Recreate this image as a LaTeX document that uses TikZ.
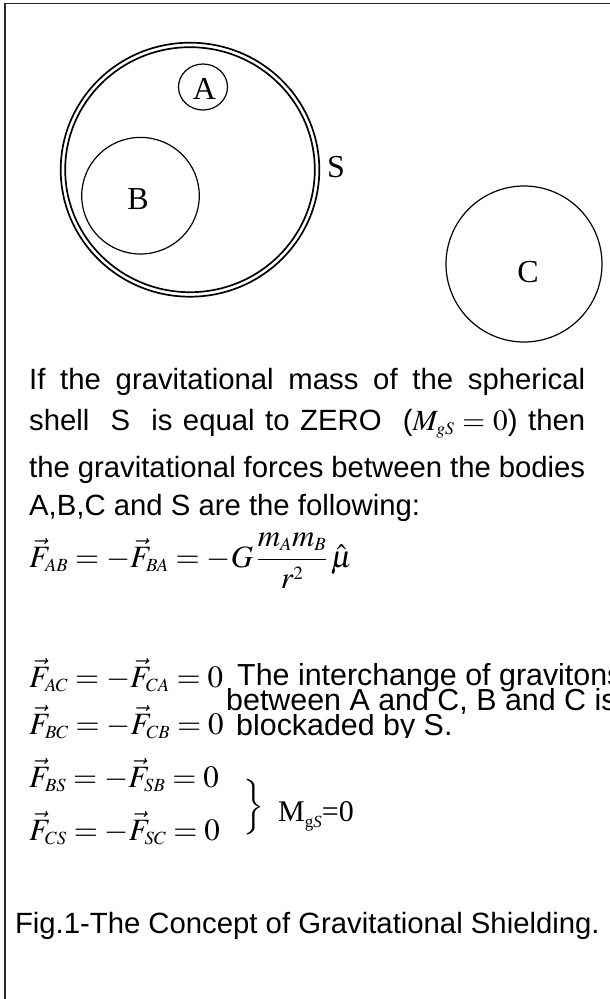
\documentclass[tikz,border=0pt]{standalone}
\usepackage{mathptmx}
\usepackage[no-math]{fontspec}
\setmainfont{Liberation Sans}
\newfontfamily\tnr{Liberation Serif}
\renewcommand{\defaultscriptratio}{.6}
\usetikzlibrary{shapes.geometric}
\tikzset{
  body/.style={draw, ellipse, line width=1.2pt, inner sep=0pt},
  shellline/.style={line width=1.7pt},
  lbl/.style={font=\tnr\fontsize{32}{36}\selectfont, inner sep=0pt},
  txt/.style={font=\fontsize{29.3}{34}\selectfont, inner sep=0pt, anchor=base west},
  rtxt/.style={font=\fontsize{30.4}{34}\selectfont, inner sep=0pt, anchor=base west},
  eq/.style={font=\fontsize{31}{36}\selectfont, inner sep=0pt, anchor=base west},
}
\begin{document}
\begin{tikzpicture}[x=1pt,y=-1pt]
\useasboundingbox (0,0) rectangle (610,999);
\clip (0,0) rectangle (610,999);
% frame
\draw[line width=1.6pt, black!85] (5,1010) -- (5,3.5) -- (620,3.5);
% shell S (double line)
\draw[shellline] (190,169.7) ellipse [x radius=129.3, y radius=127];
\draw[shellline] (190,169.7) ellipse [x radius=124.8, y radius=122.5];
\node[lbl] (S) at (336,167) {S};
% bodies
\node[body, minimum width=49pt, minimum height=46pt] (A) at (203,87) {};
\node[lbl] (Alab) at (204.5,88.5) {A};
\node[body, minimum width=117.6pt, minimum height=116.6pt] (B) at (140.5,195.7) {};
\node[lbl] (Blab) at (138,199) {B};
\node[body, minimum width=156pt, minimum height=156pt] (C) at (524,264) {};
\node[lbl] (Clab) at (528,272) {C};
% paragraph
\node[txt] (l1) at (29,389) {\makebox[556pt][s]{If the gravitational mass of the spherical}};
\node[txt] (l2) at (29,430) {\makebox[556pt][s]{shell \ S \ is equal to ZERO \ ($M_{gS}=0$) then}};
\node[txt] (l3) at (29,477) {\makebox[556pt][s]{the gravitational forces between the bodies}};
\node[txt] (l4) at (29,515) {A,B,C and S are the following:};
% equations
\node[eq] (e1) at (29,567) {$\vec{F}_{AB}=-\vec{F}_{BA}=-G\,\displaystyle\frac{m_Am_B}{r^2}\,\hat{\mu}$};
\node[eq] (e2) at (29,687) {$\vec{F}_{AC}=-\vec{F}_{CA}=0$};
\node[eq] (e3) at (29,734) {$\vec{F}_{BC}=-\vec{F}_{CB}=0$};
\node[eq] (e4) at (29,787) {$\vec{F}_{BS}=-\vec{F}_{SB}=0$};
\node[eq] (e5) at (29,840) {$\vec{F}_{CS}=-\vec{F}_{SC}=0$};
\node[rtxt] (t1) at (237,685) {The interchange of gravitons};
\node[rtxt] (t2) at (226,710) {between A and C, B and C is};
\begin{scope}
\clip (200,714) rectangle (610,737);
\node[rtxt] (t3) at (236,735) {blockaded by S.};
\end{scope}
\node[eq, anchor=center] (br) at (253,807) {$\left.\vrule height 33pt depth 17pt width 0pt\right\}$};
\node[txt, font=\tnr\fontsize{30}{34}\selectfont] (mg) at (278,821) {M\raisebox{-0.22em}{\fontsize{17}{20}\selectfont g\textit{S}}=0};
\node[txt] (fig) at (14.8,933) {Fig.1-The Concept of Gravitational Shielding.};
\end{tikzpicture}
\end{document}
